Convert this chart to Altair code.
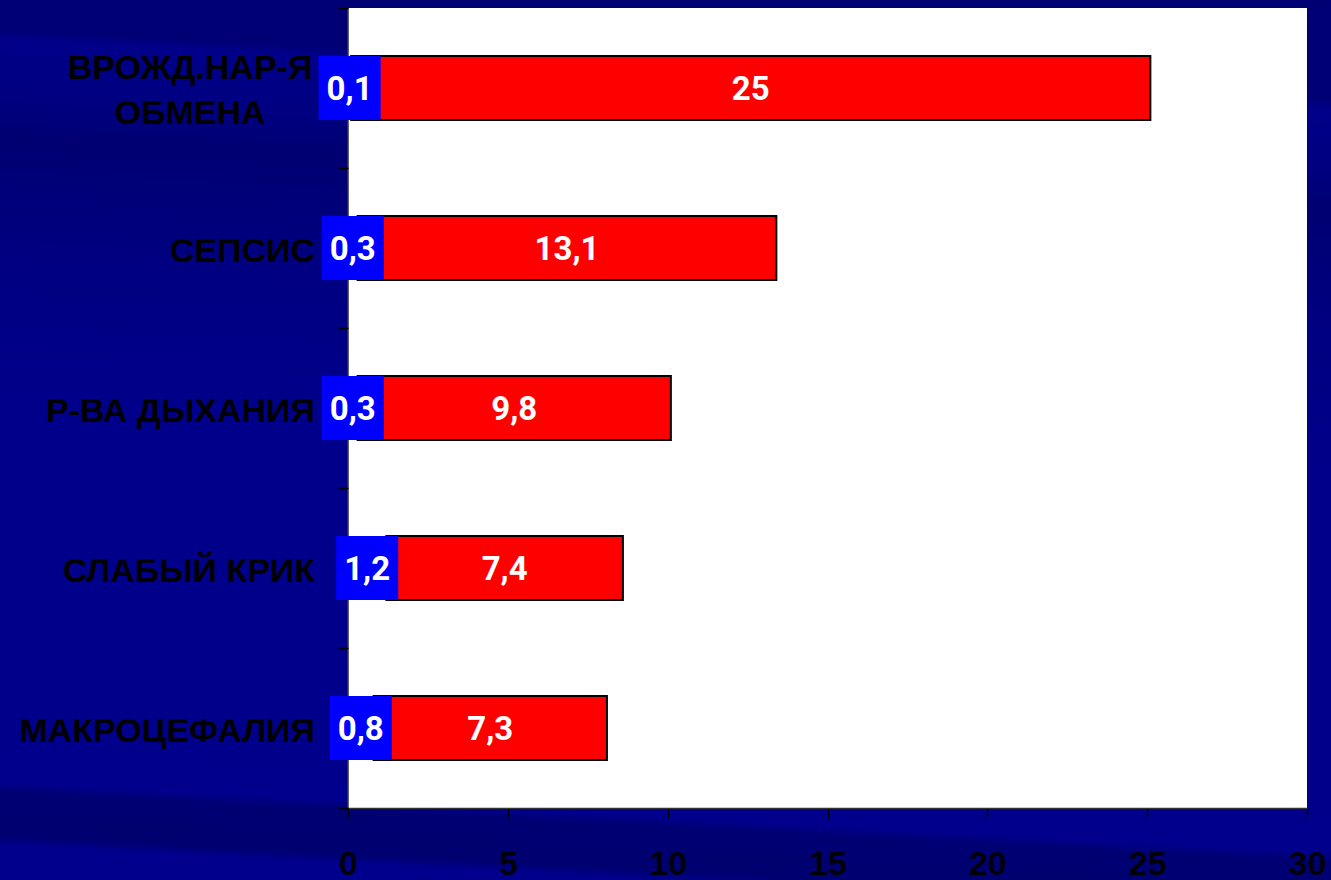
import altair as alt
import pandas as pd

categories = ["ВРОЖД.НАР-Я ОБМЕНА", "СЕПСИС", "Р-ВА ДЫХАНИЯ", "СЛАБЫЙ КРИК", "МАКРОЦЕФАЛИЯ"]
label_lines = [["ВРОЖД.НАР-Я", "ОБМЕНА"], ["СЕПСИС"], ["Р-ВА ДЫХАНИЯ"], ["СЛАБЫЙ КРИК"], ["МАКРОЦЕФАЛИЯ"]]
blue_values = [0.1, 0.3, 0.3, 1.2, 0.8]
red_values = [25, 13.1, 9.8, 7.4, 7.3]
x_ticks = [0, 5, 10, 15, 20, 25, 30]

df = pd.DataFrame({
    "cat": categories,
    "lines": label_lines,
    "blue": blue_values,
    "red": red_values,
})

W, H = 959, 800
NAVY = "#00008c"

base = alt.Chart(df).transform_calculate(
    end="datum.blue + datum.red",
    blue_mid="datum.blue / 2",
    red_mid="datum.blue + datum.red / 2",
    nline="length(datum.lines)",
    blue_txt="replace(toString(datum.blue), '.', ',')",
    red_txt="replace(toString(datum.red), '.', ',')",
)

yscale = alt.Scale(domain=categories, paddingInner=0, paddingOuter=0)
xscale = alt.Scale(domain=[0, 30], nice=False, zero=False)

bg = alt.Chart(alt.Data(values=[{}])).mark_rect(
    fill=alt.LinearGradient(
        gradient="linear",
        x1=0.08, y1=0, x2=0, y2=1,
        stops=[
            alt.GradientStop(color="#000074", offset=0.0),
            alt.GradientStop(color="#000074", offset=0.04),
            alt.GradientStop(color="#00008a", offset=0.05),
            alt.GradientStop(color="#000080", offset=0.12),
            alt.GradientStop(color="#000072", offset=0.16),
            alt.GradientStop(color="#000082", offset=0.3),
            alt.GradientStop(color="#00008a", offset=0.45),
            alt.GradientStop(color="#00008c", offset=0.89),
            alt.GradientStop(color="#000074", offset=0.9),
            alt.GradientStop(color="#000070", offset=0.95),
            alt.GradientStop(color="#00008c", offset=0.96),
            alt.GradientStop(color="#00008c", offset=1.0),
        ],
    ),
    strokeWidth=0,
).encode(
    x=alt.value(-348), x2=alt.value(983), y=alt.value(-8), y2=alt.value(872)
)

plot_bg = alt.Chart(alt.Data(values=[{}])).mark_rect(color="white", strokeWidth=0).encode(
    x=alt.value(0), x2=alt.value(W), y=alt.value(0), y2=alt.value(H)
)

yaxis_line = alt.Chart(alt.Data(values=[{}])).mark_rule(color="#333333", strokeWidth=1.5).encode(
    x=alt.value(0), y=alt.value(0), y2=alt.value(H)
)

bars = base.mark_bar(size=64, color="#ff0000", stroke="#000000", strokeWidth=2).encode(
    y=alt.Y("cat:N", sort=categories, scale=yscale, title=None,
            axis=alt.Axis(labels=False, tickBand="extent", tickSize=10, tickColor="#000000",
                          tickWidth=1.5, domain=False, grid=False, zindex=1)),
    x=alt.X("blue:Q", scale=xscale, title=None,
            axis=alt.Axis(values=x_ticks, tickSize=10, tickColor="#000000", tickWidth=1.5,
                          domainColor="#333333", domainWidth=1.5, grid=False,
                          labelFont="Liberation Sans", labelFontWeight="bold", labelFontSize=34,
                          labelColor="#00000a", labelPadding=29, labelFlush=False, zindex=1)),
    x2="end:Q",
)

blue_box = base.mark_point(
    shape="M-0.97,-1H0.97V1H-0.97Z", size=4096, filled=True, fill="#0000ff", opacity=1, strokeWidth=0
).encode(
    y=alt.Y("cat:N", sort=categories, scale=yscale),
    x=alt.X("blue_mid:Q", scale=xscale),
)

blue_lbl = base.mark_text(
    font="Roboto", fontWeight="bold", fontSize=33, color="white", baseline="middle", align="center", dy=2
).encode(
    y=alt.Y("cat:N", sort=categories, scale=yscale),
    x=alt.X("blue_mid:Q", scale=xscale),
    text="blue_txt:N",
)

red_lbl = base.mark_text(
    font="Roboto", fontWeight="bold", fontSize=33, color="white", baseline="middle", align="center", dy=2
).encode(
    y=alt.Y("cat:N", sort=categories, scale=yscale),
    x=alt.X("red_mid:Q", scale=xscale),
    text="red_txt:N",
)

cat_single = base.transform_filter("datum.nline == 1").mark_text(
    font="Liberation Sans", fontWeight="bold", fontSize=34, color="black",
    baseline="middle", align="right", dy=4
).encode(
    y=alt.Y("cat:N", sort=categories, scale=yscale),
    x=alt.value(-33),
    text="lines",
)

cat_multi = base.transform_filter("datum.nline > 1").mark_text(
    font="Liberation Sans", fontWeight="bold", fontSize=34, color="black",
    baseline="middle", align="center", lineHeight=45, dy=-19
).encode(
    y=alt.Y("cat:N", sort=categories, scale=yscale),
    x=alt.value(-158),
    text="lines",
)

chart = alt.layer(
    bg, plot_bg, yaxis_line, bars, blue_box, blue_lbl, red_lbl, cat_single, cat_multi
).properties(
    width=W, height=H,
    autosize=alt.AutoSizeParams(type="none"),
    padding={"left": 348, "top": 8, "right": 24, "bottom": 72},
    background=NAVY,
).configure_view(stroke=None, fill=None)

chart.save("out.html", embed_options={"renderer": "svg", "actions": False})
